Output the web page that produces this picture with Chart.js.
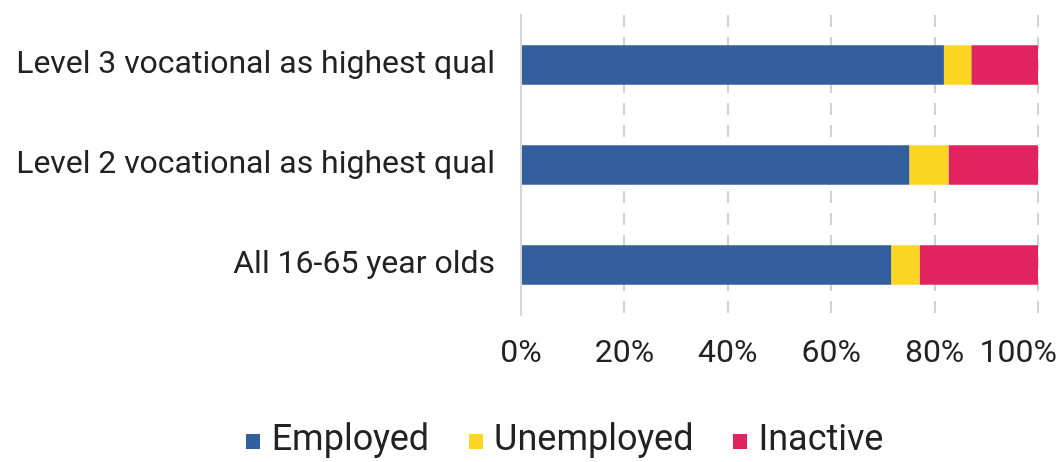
<!DOCTYPE html>
<html><head><meta charset="utf-8">
<script src="https://cdn.jsdelivr.net/npm/chart.js@4"></script>
<style>html,body{margin:0;padding:0;background:#fff}#wrap{width:1056px;height:462px;position:relative}</style>
</head><body><div id="wrap"><canvas id="c"></canvas></div>
<script>
const categories = ['Level 3 vocational as highest qual', 'Level 2 vocational as highest qual', 'All 16-65 year olds'];
const employed = [81.8, 75.1, 71.6];
const unemployed = [5.3, 7.6, 5.5];
const inactive = [12.9, 17.3, 22.9];
const seriesNames = ['Employed', 'Unemployed', 'Inactive'];
const seriesColors = ['#335F9E', '#FDD623', '#E12460'];
const tickValues = [0, 20, 40, 60, 80, 100];
const tickLabels = ['0%', '20%', '40%', '60%', '80%', '100%'];

const TEXT = '#222222';
function swatch(color) {
  const c = document.createElement('canvas');
  c.width = 14; c.height = 15;
  const g = c.getContext('2d');
  g.fillStyle = color; g.fillRect(0, 0, 14, 15);
  return c;
}
const swatches = seriesColors.map(swatch);

// shift the legend's centring box so the legend sits where the reference has it
const legendShift = {
  id: 'legendShift',
  afterLayout(chart) { if (chart.legend) { chart.legend.left = 80; } }
};

new Chart(document.getElementById('c'), {
  type: 'bar',
  data: {
    labels: categories,
    datasets: [employed, unemployed, inactive].map((d, i) => ({
      label: seriesNames[i],
      data: d,
      backgroundColor: seriesColors[i],
      borderWidth: 0,
      categoryPercentage: 1.0,
      barPercentage: 0.393
    }))
  },
  plugins: [legendShift],
  options: {
    indexAxis: 'y',
    responsive: true,
    maintainAspectRatio: false,
    animation: false,
    layout: { padding: { left: 0, right: 0, top: 15, bottom: -7 } },
    scales: {
      x: {
        stacked: true,
        min: 0, max: 100,
        afterBuildTicks: s => { s.ticks = tickValues.map(v => ({ value: v })); },
        afterFit: s => { s.height = 62; s.paddingRight = 18; s.paddingLeft = 0; },
        ticks: {
          autoSkip: false, maxRotation: 0, minRotation: 0,
          padding: 20,
          color: TEXT,
          font: { family: 'Roboto', size: 32 },
          callback: (v) => {
            const i = tickValues.indexOf(v);
            return i === tickLabels.length - 1 ? tickLabels[i] + '     ' : tickLabels[i];
          }
        },
        grid: { color: '#d2d2d2', lineWidth: 2, drawTicks: false },
        border: { display: false, dash: [12, 10] }
      },
      y: {
        stacked: true,
        afterFit: s => { s.width = 521; s.paddingTop = 0; s.paddingBottom = 0; },
        ticks: {
          padding: 26,
          color: TEXT,
          font: { family: 'Roboto', size: 32 }
        },
        grid: { display: false, drawTicks: false },
        border: { display: true, color: '#d6d6d6', width: 2 }
      }
    },
    plugins: {
      tooltip: { enabled: false },
      legend: {
        position: 'bottom',
        labels: {
          usePointStyle: true,
          boxWidth: 1,
          boxHeight: 15,
          padding: 46,
          color: TEXT,
          font: { family: 'Roboto', size: 36 },
          generateLabels: chart => Chart.defaults.plugins.legend.labels.generateLabels(chart).map((it, i) => Object.assign(it, { pointStyle: swatches[i] }))
        }
      }
    }
  }
});
</script></body></html>
